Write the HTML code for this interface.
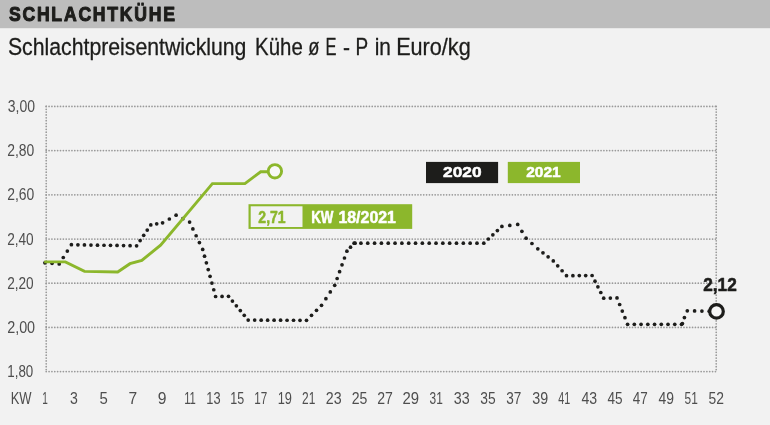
<!DOCTYPE html>
<html lang="de"><head><meta charset="utf-8"><title>Schlachtkühe</title>
<style>html,body{margin:0;padding:0;background:#f2f2f2;}body{width:770px;height:425px;overflow:hidden;font-family:"Liberation Sans",sans-serif;}svg{display:block}</style>
</head><body>
<svg width="770" height="425" viewBox="0 0 770 425">
<rect x="0" y="0" width="770" height="425" fill="#f2f2f2"/>
<rect x="0" y="0" width="770" height="28.2" fill="#bdbdbd"/>
<text x="8.9" y="21.4" font-family="Liberation Sans, sans-serif" font-weight="700" font-size="20.9" fill="#1d1d1b" letter-spacing="2.1" stroke="#1d1d1b" stroke-width="1.1" stroke-linejoin="round" textLength="167.95" lengthAdjust="spacingAndGlyphs">SCHLACHTKÜHE</text>
<text x="7.95" y="54.8" font-family="Liberation Sans, sans-serif" font-weight="400" font-size="23.7" fill="#1d1d1b"  stroke="#1d1d1b" stroke-width="0.3" stroke-linejoin="round" textLength="238.47" lengthAdjust="spacingAndGlyphs">Schlachtpreisentwicklung</text>
<text x="255.11" y="54.8" font-family="Liberation Sans, sans-serif" font-weight="400" font-size="23.7" fill="#1d1d1b"  stroke="#1d1d1b" stroke-width="0.3" stroke-linejoin="round" textLength="47.64" lengthAdjust="spacingAndGlyphs">Kühe</text>
<text x="308.15" y="54.8" font-family="Liberation Sans, sans-serif" font-weight="400" font-size="23.7" fill="#1d1d1b"  stroke="#1d1d1b" stroke-width="0.3" stroke-linejoin="round" textLength="11.17" lengthAdjust="spacingAndGlyphs">ø</text>
<text x="325.44" y="54.8" font-family="Liberation Sans, sans-serif" font-weight="400" font-size="23.7" fill="#1d1d1b"  stroke="#1d1d1b" stroke-width="0.3" stroke-linejoin="round" textLength="11.01" lengthAdjust="spacingAndGlyphs">E</text>
<text x="343.08" y="54.8" font-family="Liberation Sans, sans-serif" font-weight="400" font-size="23.7" fill="#1d1d1b"  stroke="#1d1d1b" stroke-width="0.3" stroke-linejoin="round" textLength="7.01" lengthAdjust="spacingAndGlyphs">-</text>
<text x="355.49" y="54.8" font-family="Liberation Sans, sans-serif" font-weight="400" font-size="23.7" fill="#1d1d1b"  stroke="#1d1d1b" stroke-width="0.3" stroke-linejoin="round" textLength="12.67" lengthAdjust="spacingAndGlyphs">P</text>
<text x="374.63" y="54.8" font-family="Liberation Sans, sans-serif" font-weight="400" font-size="23.7" fill="#1d1d1b"  stroke="#1d1d1b" stroke-width="0.3" stroke-linejoin="round" textLength="16.22" lengthAdjust="spacingAndGlyphs">in</text>
<text x="396.15" y="54.8" font-family="Liberation Sans, sans-serif" font-weight="400" font-size="23.7" fill="#1d1d1b"  stroke="#1d1d1b" stroke-width="0.3" stroke-linejoin="round" textLength="74.56" lengthAdjust="spacingAndGlyphs">Euro/kg</text>
<line x1="46.2" y1="106.40" x2="716.2" y2="106.40" stroke="#9a9a9a" stroke-width="1.75" stroke-linecap="round" stroke-dasharray="0 2.86"/>
<line x1="46.2" y1="150.60" x2="716.2" y2="150.60" stroke="#9a9a9a" stroke-width="1.75" stroke-linecap="round" stroke-dasharray="0 2.86"/>
<line x1="46.2" y1="194.80" x2="716.2" y2="194.80" stroke="#9a9a9a" stroke-width="1.75" stroke-linecap="round" stroke-dasharray="0 2.86"/>
<line x1="46.2" y1="239.00" x2="716.2" y2="239.00" stroke="#9a9a9a" stroke-width="1.75" stroke-linecap="round" stroke-dasharray="0 2.86"/>
<line x1="46.2" y1="283.20" x2="716.2" y2="283.20" stroke="#9a9a9a" stroke-width="1.75" stroke-linecap="round" stroke-dasharray="0 2.86"/>
<line x1="46.2" y1="327.40" x2="716.2" y2="327.40" stroke="#9a9a9a" stroke-width="1.75" stroke-linecap="round" stroke-dasharray="0 2.86"/>
<line x1="46.2" y1="371.60" x2="716.2" y2="371.60" stroke="#9a9a9a" stroke-width="1.75" stroke-linecap="round" stroke-dasharray="0 2.86"/>
<line x1="46.2" y1="106.40" x2="46.2" y2="371.60" stroke="#9a9a9a" stroke-width="1.75" stroke-linecap="round" stroke-dasharray="0 2.86"/>
<line x1="716.2" y1="106.40" x2="716.2" y2="371.60" stroke="#9a9a9a" stroke-width="1.75" stroke-linecap="round" stroke-dasharray="0 2.86"/>
<text x="7.8" y="112.0" font-family="Liberation Sans, sans-serif" font-weight="400" font-size="16" fill="#4e4e4e"  textLength="27.24" lengthAdjust="spacingAndGlyphs">3,00</text>
<text x="7.15" y="156.2" font-family="Liberation Sans, sans-serif" font-weight="400" font-size="16" fill="#4e4e4e"  textLength="27.08" lengthAdjust="spacingAndGlyphs">2,80</text>
<text x="7.15" y="200.4" font-family="Liberation Sans, sans-serif" font-weight="400" font-size="16" fill="#4e4e4e"  textLength="27.08" lengthAdjust="spacingAndGlyphs">2,60</text>
<text x="7.15" y="244.6" font-family="Liberation Sans, sans-serif" font-weight="400" font-size="16" fill="#4e4e4e"  textLength="26.55" lengthAdjust="spacingAndGlyphs">2,40</text>
<text x="7.15" y="288.8" font-family="Liberation Sans, sans-serif" font-weight="400" font-size="16" fill="#4e4e4e"  textLength="26.55" lengthAdjust="spacingAndGlyphs">2,20</text>
<text x="7.15" y="333.0" font-family="Liberation Sans, sans-serif" font-weight="400" font-size="16" fill="#4e4e4e"  textLength="27.97" lengthAdjust="spacingAndGlyphs">2,00</text>
<text x="7.3" y="377.2" font-family="Liberation Sans, sans-serif" font-weight="400" font-size="16" fill="#4e4e4e"  textLength="25.96" lengthAdjust="spacingAndGlyphs">1,80</text>
<text x="10.69" y="404.3" font-family="Liberation Sans, sans-serif" font-weight="400" font-size="16" fill="#4e4e4e"  textLength="20.89" lengthAdjust="spacingAndGlyphs">KW</text>
<text x="42.17" y="404.3" font-family="Liberation Sans, sans-serif" font-weight="400" font-size="16" fill="#4e4e4e"  textLength="5.58" lengthAdjust="spacingAndGlyphs">1</text>
<text x="70.11" y="404.3" font-family="Liberation Sans, sans-serif" font-weight="400" font-size="16" fill="#4e4e4e"  textLength="7.84" lengthAdjust="spacingAndGlyphs">3</text>
<text x="99.55" y="404.3" font-family="Liberation Sans, sans-serif" font-weight="400" font-size="16" fill="#4e4e4e"  textLength="8.31" lengthAdjust="spacingAndGlyphs">5</text>
<text x="128.62" y="404.3" font-family="Liberation Sans, sans-serif" font-weight="400" font-size="16" fill="#4e4e4e"  textLength="8.66" lengthAdjust="spacingAndGlyphs">7</text>
<text x="157.64" y="404.3" font-family="Liberation Sans, sans-serif" font-weight="400" font-size="16" fill="#4e4e4e"  textLength="8.73" lengthAdjust="spacingAndGlyphs">9</text>
<text x="184.16" y="404.3" font-family="Liberation Sans, sans-serif" font-weight="400" font-size="16" fill="#4e4e4e"  textLength="11.72" lengthAdjust="spacingAndGlyphs">11</text>
<text x="206.3" y="404.3" font-family="Liberation Sans, sans-serif" font-weight="400" font-size="16" fill="#4e4e4e"  textLength="14.26" lengthAdjust="spacingAndGlyphs">13</text>
<text x="230.21" y="404.3" font-family="Liberation Sans, sans-serif" font-weight="400" font-size="16" fill="#4e4e4e"  textLength="13.86" lengthAdjust="spacingAndGlyphs">15</text>
<text x="254.3" y="404.3" font-family="Liberation Sans, sans-serif" font-weight="400" font-size="16" fill="#4e4e4e"  textLength="12.96" lengthAdjust="spacingAndGlyphs">17</text>
<text x="277.7" y="404.3" font-family="Liberation Sans, sans-serif" font-weight="400" font-size="16" fill="#4e4e4e"  textLength="14.26" lengthAdjust="spacingAndGlyphs">19</text>
<text x="302.1" y="404.3" font-family="Liberation Sans, sans-serif" font-weight="400" font-size="16" fill="#4e4e4e"  textLength="13.24" lengthAdjust="spacingAndGlyphs">21</text>
<text x="325.75" y="404.3" font-family="Liberation Sans, sans-serif" font-weight="400" font-size="16" fill="#4e4e4e"  textLength="15.8" lengthAdjust="spacingAndGlyphs">23</text>
<text x="351.75" y="404.3" font-family="Liberation Sans, sans-serif" font-weight="400" font-size="16" fill="#4e4e4e"  textLength="15.64" lengthAdjust="spacingAndGlyphs">25</text>
<text x="377.15" y="404.3" font-family="Liberation Sans, sans-serif" font-weight="400" font-size="16" fill="#4e4e4e"  textLength="15.64" lengthAdjust="spacingAndGlyphs">27</text>
<text x="402.54" y="404.3" font-family="Liberation Sans, sans-serif" font-weight="400" font-size="16" fill="#4e4e4e"  textLength="16.56" lengthAdjust="spacingAndGlyphs">29</text>
<text x="429.6" y="404.3" font-family="Liberation Sans, sans-serif" font-weight="400" font-size="16" fill="#4e4e4e"  textLength="13.24" lengthAdjust="spacingAndGlyphs">31</text>
<text x="453.71" y="404.3" font-family="Liberation Sans, sans-serif" font-weight="400" font-size="16" fill="#4e4e4e"  textLength="15.91" lengthAdjust="spacingAndGlyphs">33</text>
<text x="480.21" y="404.3" font-family="Liberation Sans, sans-serif" font-weight="400" font-size="16" fill="#4e4e4e"  textLength="15.37" lengthAdjust="spacingAndGlyphs">35</text>
<text x="506.2" y="404.3" font-family="Liberation Sans, sans-serif" font-weight="400" font-size="16" fill="#4e4e4e"  textLength="15.09" lengthAdjust="spacingAndGlyphs">37</text>
<text x="532.21" y="404.3" font-family="Liberation Sans, sans-serif" font-weight="400" font-size="16" fill="#4e4e4e"  textLength="15.91" lengthAdjust="spacingAndGlyphs">39</text>
<text x="558.35" y="404.3" font-family="Liberation Sans, sans-serif" font-weight="400" font-size="16" fill="#4e4e4e"  textLength="11.95" lengthAdjust="spacingAndGlyphs">41</text>
<text x="581.45" y="404.3" font-family="Liberation Sans, sans-serif" font-weight="400" font-size="16" fill="#4e4e4e"  textLength="15.65" lengthAdjust="spacingAndGlyphs">43</text>
<text x="607.45" y="404.3" font-family="Liberation Sans, sans-serif" font-weight="400" font-size="16" fill="#4e4e4e"  textLength="15.11" lengthAdjust="spacingAndGlyphs">45</text>
<text x="632.85" y="404.3" font-family="Liberation Sans, sans-serif" font-weight="400" font-size="16" fill="#4e4e4e"  textLength="15.0" lengthAdjust="spacingAndGlyphs">47</text>
<text x="658.55" y="404.3" font-family="Liberation Sans, sans-serif" font-weight="400" font-size="16" fill="#4e4e4e"  textLength="15.48" lengthAdjust="spacingAndGlyphs">49</text>
<text x="684.6" y="404.3" font-family="Liberation Sans, sans-serif" font-weight="400" font-size="16" fill="#4e4e4e"  textLength="13.24" lengthAdjust="spacingAndGlyphs">51</text>
<text x="708.5" y="404.3" font-family="Liberation Sans, sans-serif" font-weight="400" font-size="16" fill="#4e4e4e"  textLength="15.42" lengthAdjust="spacingAndGlyphs">52</text>
<g fill="#1d1d1b">
<circle cx="44.90" cy="262.80" r="1.85"/>
<circle cx="52.05" cy="263.35" r="1.85"/>
<circle cx="59.20" cy="263.90" r="1.85"/>
<circle cx="63.27" cy="257.50" r="1.85"/>
<circle cx="67.33" cy="251.10" r="1.85"/>
<circle cx="71.40" cy="244.70" r="1.85"/>
<circle cx="77.92" cy="244.81" r="1.85"/>
<circle cx="84.44" cy="244.92" r="1.85"/>
<circle cx="90.96" cy="245.03" r="1.85"/>
<circle cx="97.48" cy="245.14" r="1.85"/>
<circle cx="104.00" cy="245.25" r="1.85"/>
<circle cx="110.52" cy="245.36" r="1.85"/>
<circle cx="117.04" cy="245.47" r="1.85"/>
<circle cx="123.56" cy="245.58" r="1.85"/>
<circle cx="130.08" cy="245.69" r="1.85"/>
<circle cx="136.60" cy="245.80" r="1.85"/>
<circle cx="140.15" cy="240.58" r="1.85"/>
<circle cx="143.70" cy="235.35" r="1.85"/>
<circle cx="147.25" cy="230.12" r="1.85"/>
<circle cx="150.80" cy="224.90" r="1.85"/>
<circle cx="156.70" cy="223.85" r="1.85"/>
<circle cx="162.60" cy="222.80" r="1.85"/>
<circle cx="169.35" cy="219.00" r="1.85"/>
<circle cx="176.10" cy="215.20" r="1.85"/>
<circle cx="182.85" cy="218.65" r="1.85"/>
<circle cx="189.60" cy="222.10" r="1.85"/>
<circle cx="192.88" cy="228.93" r="1.85"/>
<circle cx="196.15" cy="235.75" r="1.85"/>
<circle cx="199.42" cy="242.57" r="1.85"/>
<circle cx="202.70" cy="249.40" r="1.85"/>
<circle cx="204.54" cy="256.13" r="1.85"/>
<circle cx="206.39" cy="262.86" r="1.85"/>
<circle cx="208.23" cy="269.59" r="1.85"/>
<circle cx="210.07" cy="276.31" r="1.85"/>
<circle cx="211.91" cy="283.04" r="1.85"/>
<circle cx="213.76" cy="289.77" r="1.85"/>
<circle cx="215.60" cy="296.50" r="1.85"/>
<circle cx="222.05" cy="296.40" r="1.85"/>
<circle cx="228.50" cy="296.30" r="1.85"/>
<circle cx="232.44" cy="301.06" r="1.85"/>
<circle cx="236.38" cy="305.82" r="1.85"/>
<circle cx="240.32" cy="310.58" r="1.85"/>
<circle cx="244.26" cy="315.34" r="1.85"/>
<circle cx="248.20" cy="320.10" r="1.85"/>
<circle cx="254.68" cy="320.12" r="1.85"/>
<circle cx="261.16" cy="320.14" r="1.85"/>
<circle cx="267.63" cy="320.17" r="1.85"/>
<circle cx="274.11" cy="320.19" r="1.85"/>
<circle cx="280.59" cy="320.21" r="1.85"/>
<circle cx="287.07" cy="320.23" r="1.85"/>
<circle cx="293.54" cy="320.26" r="1.85"/>
<circle cx="300.02" cy="320.28" r="1.85"/>
<circle cx="306.50" cy="320.30" r="1.85"/>
<circle cx="311.50" cy="315.30" r="1.85"/>
<circle cx="316.50" cy="310.30" r="1.85"/>
<circle cx="321.50" cy="305.30" r="1.85"/>
<circle cx="325.90" cy="298.63" r="1.85"/>
<circle cx="330.30" cy="291.97" r="1.85"/>
<circle cx="334.70" cy="285.30" r="1.85"/>
<circle cx="337.14" cy="278.48" r="1.85"/>
<circle cx="339.58" cy="271.66" r="1.85"/>
<circle cx="342.02" cy="264.84" r="1.85"/>
<circle cx="344.46" cy="258.02" r="1.85"/>
<circle cx="346.90" cy="251.20" r="1.85"/>
<circle cx="350.50" cy="247.20" r="1.85"/>
<circle cx="354.10" cy="243.20" r="1.85"/>
<circle cx="360.93" cy="243.20" r="1.85"/>
<circle cx="367.75" cy="243.20" r="1.85"/>
<circle cx="374.58" cy="243.20" r="1.85"/>
<circle cx="381.41" cy="243.20" r="1.85"/>
<circle cx="388.23" cy="243.20" r="1.85"/>
<circle cx="395.06" cy="243.20" r="1.85"/>
<circle cx="401.88" cy="243.20" r="1.85"/>
<circle cx="408.71" cy="243.20" r="1.85"/>
<circle cx="415.54" cy="243.20" r="1.85"/>
<circle cx="422.36" cy="243.20" r="1.85"/>
<circle cx="429.19" cy="243.20" r="1.85"/>
<circle cx="436.02" cy="243.20" r="1.85"/>
<circle cx="442.84" cy="243.20" r="1.85"/>
<circle cx="449.67" cy="243.20" r="1.85"/>
<circle cx="456.49" cy="243.20" r="1.85"/>
<circle cx="463.32" cy="243.20" r="1.85"/>
<circle cx="470.15" cy="243.20" r="1.85"/>
<circle cx="476.97" cy="243.20" r="1.85"/>
<circle cx="483.80" cy="243.20" r="1.85"/>
<circle cx="488.32" cy="239.00" r="1.85"/>
<circle cx="492.85" cy="234.80" r="1.85"/>
<circle cx="497.38" cy="230.60" r="1.85"/>
<circle cx="501.90" cy="226.40" r="1.85"/>
<circle cx="509.80" cy="225.40" r="1.85"/>
<circle cx="517.70" cy="224.40" r="1.85"/>
<circle cx="521.90" cy="231.30" r="1.85"/>
<circle cx="526.10" cy="238.20" r="1.85"/>
<circle cx="531.95" cy="243.50" r="1.85"/>
<circle cx="537.80" cy="248.80" r="1.85"/>
<circle cx="542.97" cy="252.83" r="1.85"/>
<circle cx="548.13" cy="256.87" r="1.85"/>
<circle cx="553.30" cy="260.90" r="1.85"/>
<circle cx="557.70" cy="265.83" r="1.85"/>
<circle cx="562.10" cy="270.77" r="1.85"/>
<circle cx="566.50" cy="275.70" r="1.85"/>
<circle cx="572.90" cy="275.65" r="1.85"/>
<circle cx="579.30" cy="275.60" r="1.85"/>
<circle cx="585.70" cy="275.55" r="1.85"/>
<circle cx="592.10" cy="275.50" r="1.85"/>
<circle cx="595.00" cy="281.18" r="1.85"/>
<circle cx="597.90" cy="286.85" r="1.85"/>
<circle cx="600.80" cy="292.52" r="1.85"/>
<circle cx="603.70" cy="298.20" r="1.85"/>
<circle cx="610.35" cy="298.05" r="1.85"/>
<circle cx="617.00" cy="297.90" r="1.85"/>
<circle cx="619.65" cy="304.50" r="1.85"/>
<circle cx="622.30" cy="311.10" r="1.85"/>
<circle cx="624.95" cy="317.70" r="1.85"/>
<circle cx="627.60" cy="324.30" r="1.85"/>
<circle cx="634.34" cy="324.30" r="1.85"/>
<circle cx="641.08" cy="324.30" r="1.85"/>
<circle cx="647.81" cy="324.30" r="1.85"/>
<circle cx="654.55" cy="324.30" r="1.85"/>
<circle cx="661.29" cy="324.30" r="1.85"/>
<circle cx="668.02" cy="324.30" r="1.85"/>
<circle cx="674.76" cy="324.30" r="1.85"/>
<circle cx="681.50" cy="324.30" r="1.85"/>
<circle cx="684.40" cy="317.55" r="1.85"/>
<circle cx="687.30" cy="310.80" r="1.85"/>
<circle cx="694.60" cy="310.93" r="1.85"/>
<circle cx="701.90" cy="311.05" r="1.85"/>
<circle cx="709.20" cy="311.18" r="1.85"/>
<circle cx="355.1" cy="243.2" r="1.85"/><circle cx="682.4" cy="323.6" r="1.85"/>
</g>
<path d="M44.20 261.90 L65.40 261.90 L84.50 271.40 L117.70 272.00 L130.00 263.70 L141.80 260.40 L160.60 245.20 L212.40 183.60 L244.90 183.60 L260.70 171.80 L269.00 171.80" fill="none" stroke="#8cb72c" stroke-width="2.9" stroke-linejoin="miter"/>
<circle cx="274.9" cy="171.3" r="6.7" fill="#f8f8f8" stroke="#8cb72c" stroke-width="2.9"/>
<circle cx="716.5" cy="311.4" r="6.8" fill="#f6f6f6" stroke="#1d1d1b" stroke-width="3.2"/>
<text x="703.25" y="290.5" font-family="Liberation Sans, sans-serif" font-weight="700" font-size="19.2" fill="#1d1d1b"  stroke="#1d1d1b" stroke-width="0.6" stroke-linejoin="round" textLength="33.46" lengthAdjust="spacingAndGlyphs">2,12</text>
<rect x="426" y="161.9" width="72.1" height="21.2" fill="#1d1d1b"/>
<rect x="507.8" y="161.9" width="72.2" height="21.2" fill="#8cb72c"/>
<text x="443.05" y="177.4" font-family="Liberation Sans, sans-serif" font-weight="700" font-size="15.2" fill="#fff"  stroke="#fff" stroke-width="0.5" stroke-linejoin="round" textLength="38.47" lengthAdjust="spacingAndGlyphs">2020</text>
<text x="526.25" y="177.4" font-family="Liberation Sans, sans-serif" font-weight="700" font-size="15.2" fill="#fff"  stroke="#fff" stroke-width="0.5" stroke-linejoin="round" textLength="34.49" lengthAdjust="spacingAndGlyphs">2021</text>
<rect x="248.5" y="204.2" width="163.7" height="24.7" fill="#8cb72c"/>
<rect x="250.7" y="206.3" width="51.8" height="20.7" fill="#f2f2f2"/>
<text x="258.35" y="223" font-family="Liberation Sans, sans-serif" font-weight="700" font-size="16" fill="#8cb72c"  stroke="#8cb72c" stroke-width="0.5" stroke-linejoin="round" textLength="27.27" lengthAdjust="spacingAndGlyphs">2,71</text>
<text x="311.14" y="222.8" font-family="Liberation Sans, sans-serif" font-weight="700" font-size="16" fill="#fff"  stroke="#fff" stroke-width="0.5" stroke-linejoin="round" textLength="22.3" lengthAdjust="spacingAndGlyphs">KW</text>
<text x="338.45" y="222.8" font-family="Liberation Sans, sans-serif" font-weight="700" font-size="16" fill="#fff"  stroke="#fff" stroke-width="0.5" stroke-linejoin="round" textLength="57.47" lengthAdjust="spacingAndGlyphs">18/2021</text>
</svg>
</body></html>
